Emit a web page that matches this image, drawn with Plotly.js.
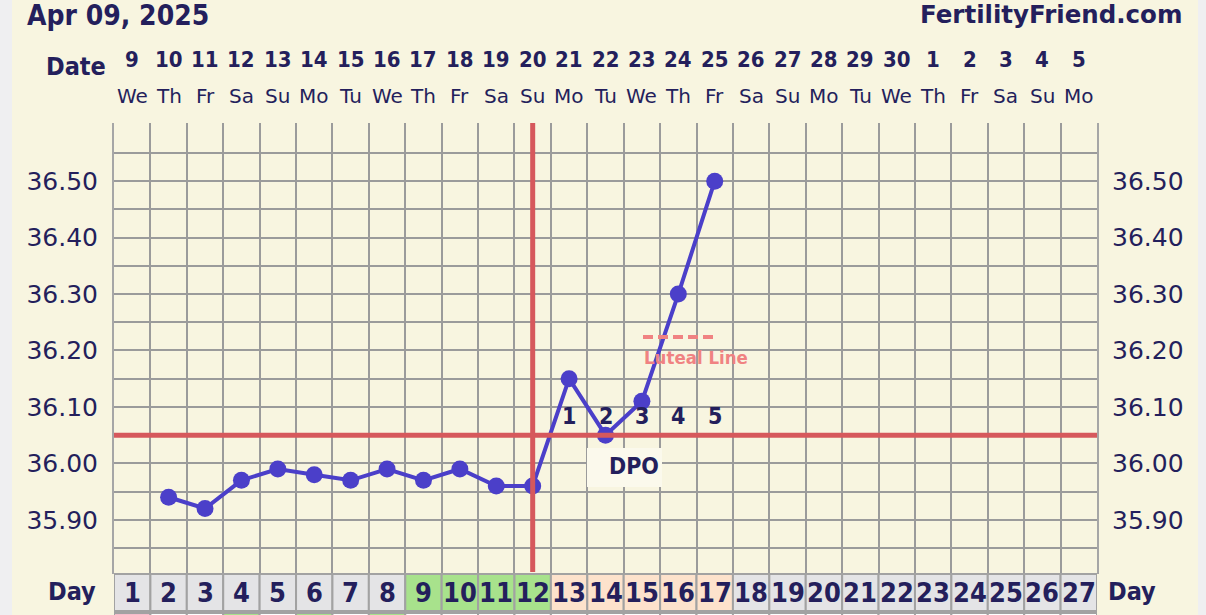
<!DOCTYPE html>
<html>
<head>
<meta charset="utf-8">
<script src="https://cdn.plot.ly/plotly-3.0.1.min.js"></script>
<style>
  html, body { margin: 0; padding: 0; background: #efeff1; width: 1206px; height: 615px; overflow: hidden; }
  #chart { position: absolute; left: 12px; top: 0; width: 1186px; height: 615px; }
</style>
</head>
<body>
<div id="chart"></div>
<script>
// ---------------- data ----------------
const chartDate = "Apr 09, 2025";
const siteName = "FertilityFriend.com";
const cycleDays = [1,2,3,4,5,6,7,8,9,10,11,12,13,14,15,16,17,18,19,20,21,22,23,24,25,26,27];
const dateLabels = ["9","10","11","12","13","14","15","16","17","18","19","20","21","22","23","24","25","26","27","28","29","30","1","2","3","4","5"];
const weekdayLabels = ["We","Th","Fr","Sa","Su","Mo","Tu","We","Th","Fr","Sa","Su","Mo","Tu","We","Th","Fr","Sa","Su","Mo","Tu","We","Th","Fr","Sa","Su","Mo"];
const tempDays = [2,3,4,5,6,7,8,9,10,11,12,13,14,15,16,17];
const temps = [35.94,35.92,35.97,35.99,35.98,35.97,35.99,35.97,35.99,35.96,35.96,36.15,36.05,36.11,36.30,36.50];
const coverline = 36.05;
const ovulationDay = 12;
const dpoDays = [13,14,15,16,17];
const dpoLabels = ["1","2","3","4","5"];
const yTickVals = [35.90,36.00,36.10,36.20,36.30,36.40,36.50];
const yTickText = ["35.90","36.00","36.10","36.20","36.30","36.40","36.50"];
const dayPhase = ["none","none","none","none","none","none","none","none","fertile","fertile","fertile","fertile","luteal","luteal","luteal","luteal","luteal","none","none","none","none","none","none","none","none","none","none"];
const secondRowPhase = ["period","none","none","cf","none","cf","none","cf","none","none","none","none","none","none","none","none","none","none","none","none","none","none","none","none","none","none","none"];

// ---------------- style ----------------
const NAVY = "#241f5c";
const CREAM = "#f8f5e0";
const GRID = "#9b9b9b";
const RED = "#d6585c";
const BLUE = "#4b3fc9";
const CORAL = "#f08282";
const BOLD = "DejaVu Sans Condensed, DejaVu Sans, sans-serif";
const REG = "DejaVu Sans, Verdana, sans-serif";
const phaseColor = {none: "#e4e4e6", fertile: "#a8e28c", luteal: "#fde2cc"};
const row2Color = {none: "#ffffff", period: "#f5bccb", cf: "#a8e28c"};

// pixel helpers (plot area: x 114..1097, y 123..574 in page pixels)
const PL = 114, PR = 1097, PT = 123, PB = 574;
const px2paperX = px => (px - PL) / (PR - PL);
const py2paperY = py => (PB - py) / (PB - PT);

const colBounds = cycleDays.slice(0, -1).map(d => d + 0.5);
// half-step grid lines (every 0.05 below the top edge)
const minorGrid = [];
for (let k = 0; k < 16; k++) minorGrid.push(Math.round((35.80 + 0.05 * k) * 100) / 100);

const traces = [
  {
    x: tempDays, y: temps, type: "scatter", mode: "lines+markers",
    line: {color: BLUE, width: 4},
    marker: {color: BLUE, size: 17},
    hoverinfo: "x+y", showlegend: false, cliponaxis: false
  },
  {
    x: tempDays, y: temps, type: "scatter", mode: "lines", yaxis: "y2",
    line: {color: "rgba(0,0,0,0)", width: 0}, hoverinfo: "skip", showlegend: false
  }
];

const shapes = [];
// day row cells
cycleDays.forEach((d, i) => {
  shapes.push({type: "rect", xref: "x", yref: "paper", x0: d - 0.5, x1: d + 0.5,
    y0: py2paperY(611), y1: py2paperY(574),
    fillcolor: phaseColor[dayPhase[i]], line: {color: "#a2a2a2", width: 2}});
  shapes.push({type: "rect", xref: "x", yref: "paper", x0: d - 0.5, x1: d + 0.5,
    y0: py2paperY(640), y1: py2paperY(613),
    fillcolor: row2Color[secondRowPhase[i]], line: {color: "#a2a2a2", width: 2}});
});
// coverline
shapes.push({type: "line", xref: "paper", yref: "y", x0: 0, x1: 1, y0: coverline, y1: coverline,
  line: {color: RED, width: 5}});
// ovulation line
shapes.push({type: "line", xref: "x", yref: "paper", x0: ovulationDay, x1: ovulationDay,
  y0: py2paperY(572), y1: 1, line: {color: RED, width: 5}});
// DPO label background
shapes.push({type: "rect", xref: "paper", yref: "paper",
  x0: px2paperX(587), x1: px2paperX(662), y0: py2paperY(487), y1: py2paperY(448),
  fillcolor: "#fbf9ec", line: {width: 0}, layer: "above"});
// luteal line legend sample
shapes.push({type: "line", xref: "paper", yref: "paper",
  x0: px2paperX(643), x1: px2paperX(716), y0: py2paperY(337), y1: py2paperY(337),
  line: {color: CORAL, width: 4, dash: "10px,5px"}});

const annotations = [];
// top date row, weekday row, day row
cycleDays.forEach((d, i) => {
  annotations.push({xref: "x", yref: "paper", x: d, y: py2paperY(59), text: "<b>" + dateLabels[i] + "</b>",
    showarrow: false, xanchor: "center", yanchor: "middle",
    font: {family: BOLD, size: 22, color: NAVY}});
  annotations.push({xref: "x", yref: "paper", x: d, y: py2paperY(96), text: weekdayLabels[i],
    showarrow: false, xanchor: "center", yanchor: "middle",
    font: {family: REG, size: 20, color: NAVY}});
  annotations.push({xref: "x", yref: "paper", x: d, y: py2paperY(592), text: "<b>" + String(d) + "</b>",
    showarrow: false, xanchor: "center", yanchor: "middle",
    font: {family: BOLD, size: 27, color: NAVY}});
});
// DPO numbers
dpoDays.forEach((d, i) => {
  annotations.push({xref: "x", yref: "y", x: d, y: coverline, yshift: 19, text: "<b>" + dpoLabels[i] + "</b>",
    showarrow: false, xanchor: "center", yanchor: "middle",
    font: {family: BOLD, size: 23, color: NAVY}});
});
annotations.push({xref: "paper", yref: "paper", x: px2paperX(634), y: py2paperY(466), text: "<b>DPO</b>",
  showarrow: false, xanchor: "center", yanchor: "middle", font: {family: BOLD, size: 23, color: NAVY}});
annotations.push({xref: "paper", yref: "paper", x: px2paperX(642), y: py2paperY(357), text: "<b>Luteal Line</b>",
  showarrow: false, xanchor: "left", yanchor: "middle", font: {family: BOLD, size: 18.5, color: CORAL}});
// row labels
annotations.push({xref: "paper", yref: "paper", x: px2paperX(76), y: py2paperY(67), text: "<b>Date</b>",
  showarrow: false, xanchor: "center", yanchor: "middle", font: {family: BOLD, size: 25, color: NAVY}});
annotations.push({xref: "paper", yref: "paper", x: px2paperX(72), y: py2paperY(591), text: "<b>Day</b>",
  showarrow: false, xanchor: "center", yanchor: "middle", font: {family: BOLD, size: 25, color: NAVY}});
annotations.push({xref: "paper", yref: "paper", x: px2paperX(1106), y: py2paperY(591), text: "<b>Day</b>",
  showarrow: false, xanchor: "left", yanchor: "middle", font: {family: BOLD, size: 25, color: NAVY}});
annotations.push({xref: "paper", yref: "paper", x: px2paperX(1184), y: py2paperY(15), text: "<b>" + siteName + "</b>",
  showarrow: false, xanchor: "right", yanchor: "middle", font: {family: REG, size: 24.5, color: NAVY}});

const yAxisCommon = {
  range: [35.804, 36.603], tickmode: "array", tickvals: yTickVals, ticktext: yTickText,
  ticks: "outside", ticklen: 9, tickcolor: "rgba(0,0,0,0)",
  tickfont: {family: REG, size: 25, color: NAVY}, zeroline: false, fixedrange: true
};

const layout = {
  width: 1186, height: 615,
  margin: {l: PL - 12, r: 1198 - PR, t: PT, b: 615 - PB, pad: 0},
  paper_bgcolor: CREAM, plot_bgcolor: CREAM,
  title: {text: "<b>" + chartDate + "</b>", xref: "container", yref: "container",
    x: 15 / 1186, xanchor: "left", y: 1 - 15 / 615, yanchor: "middle",
    font: {family: BOLD, size: 28, color: NAVY}},
  showlegend: false,
  xaxis: {range: [0.5, 27.5], tickmode: "array", tickvals: colBounds, showticklabels: false,
    showgrid: true, gridcolor: GRID, gridwidth: 2, zeroline: false, showline: false, ticks: "", fixedrange: true},
  yaxis: Object.assign({}, yAxisCommon, {
    showgrid: true, gridcolor: GRID, gridwidth: 2,
    minor: {tickmode: "array", tickvals: minorGrid, showgrid: true, gridcolor: GRID, gridwidth: 2, ticks: ""},
    showline: true, mirror: true, linecolor: "#a6a6a6", linewidth: 2}),
  yaxis2: Object.assign({}, yAxisCommon, {overlaying: "y", side: "right", showgrid: false, showline: false}),
  shapes: shapes,
  annotations: annotations
};

Plotly.newPlot("chart", traces, layout, {displayModeBar: false, staticPlot: true});
</script>
</body>
</html>
